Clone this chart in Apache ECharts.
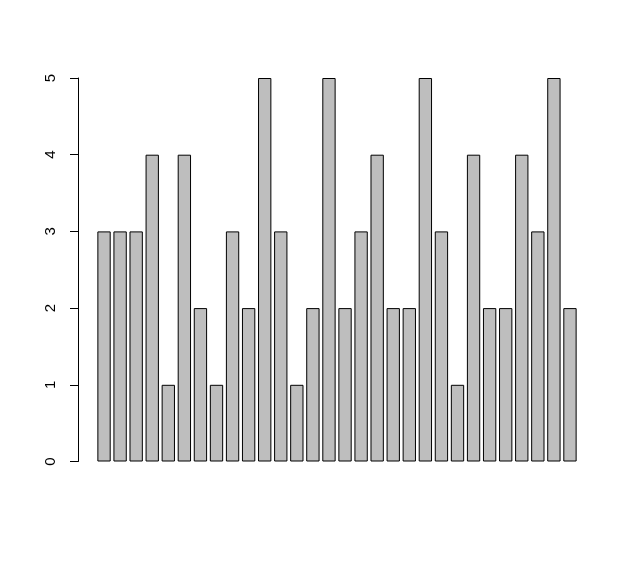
<!DOCTYPE html>
<html>
<head>
<meta charset="utf-8">
<script src="https://cdn.jsdelivr.net/npm/echarts@6/dist/echarts.min.js"></script>
<style>
  html, body { margin: 0; padding: 0; background: #fff; }
  #chart { width: 635px; height: 563px; }
</style>
</head>
<body>
<div id="chart"></div>
<script>
// bar heights, left to right
var categories = [];
var values = [3, 3, 3, 4, 1, 4, 2, 1, 3, 2, 5, 3, 1, 2, 5, 2, 3, 4, 2, 2, 5, 3, 1, 4, 2, 2, 4, 3, 5, 2];
var yTicks = [0, 1, 2, 3, 4, 5];
for (var i = 0; i < values.length; i++) categories.push(String(i + 1));

var chart = echarts.init(document.getElementById('chart'));
chart.setOption({
    animation: false,
    grid: { left: 96, width: 482, top: 78, bottom: 101.5 },
    xAxis: {
        type: 'category',
        data: categories,
        show: false
    },
    yAxis: {
        type: 'value',
        min: 0,
        max: 5,
        interval: 1,
        offset: 18,
        splitLine: { show: false },
        axisLine: { show: true, lineStyle: { color: '#000', width: 1 } },
        axisTick: { show: true, length: 8, lineStyle: { color: '#000' } },
        axisLabel: {
            rotate: 90,
            margin: 20,
            color: '#000',
            fontSize: 15,
            fontFamily: 'Liberation Sans, Arial, sans-serif',
            formatter: function (v) { return yTicks.indexOf(v) >= 0 ? String(v) : ''; }
        }
    },
    series: [{
        type: 'bar',
        data: values,
        barCategoryGap: '17%',
        itemStyle: { color: '#bebebe', borderColor: '#000', borderWidth: 1 }
    }]
});
</script>
</body>
</html>
